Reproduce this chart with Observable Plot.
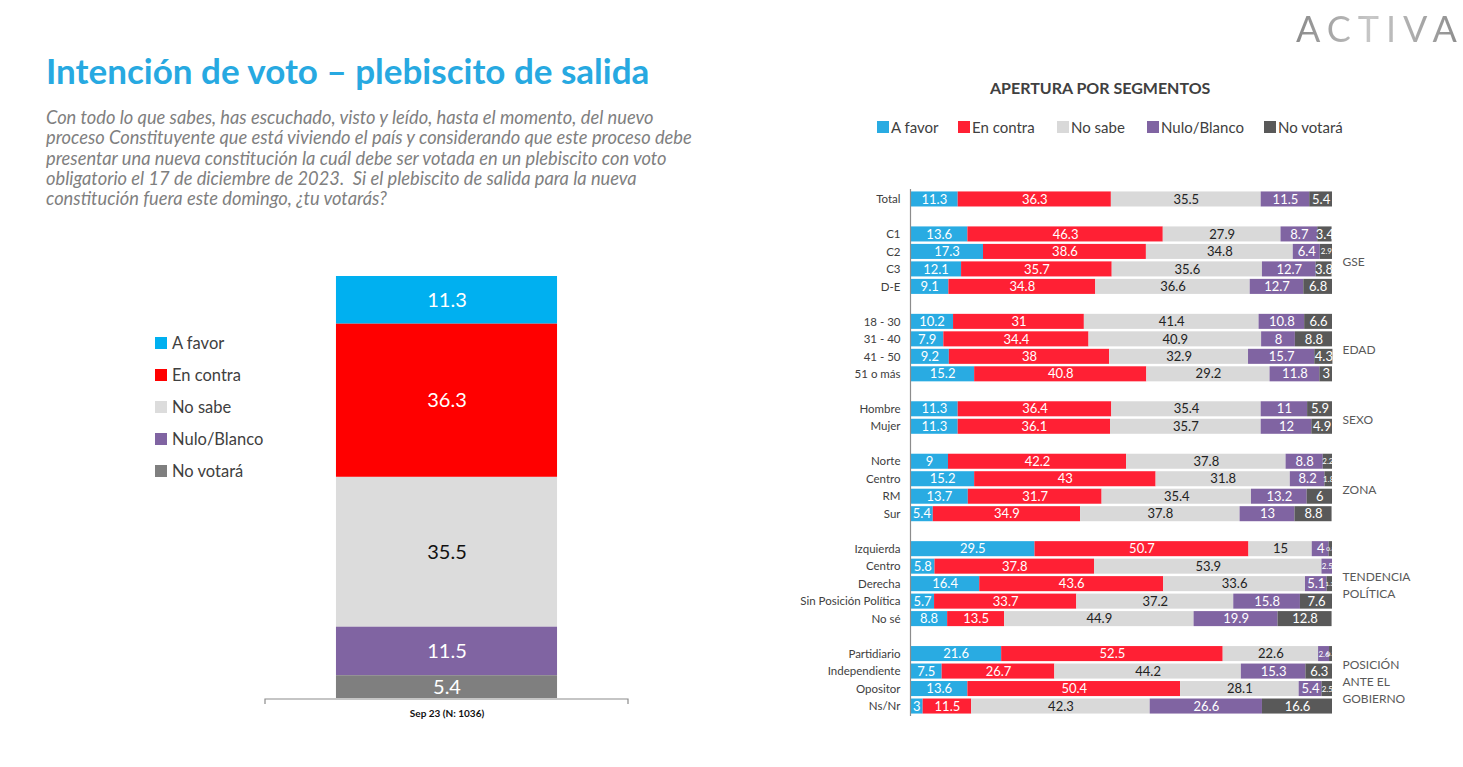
<!DOCTYPE html>
<html><head><meta charset="utf-8">
<script src="https://cdn.jsdelivr.net/npm/d3@7"></script>
<script src="https://cdn.jsdelivr.net/npm/@observablehq/plot@0.6"></script>
<style>
body{margin:0;background:#fff;font-family:Lato,"Open Sans",sans-serif;}
#page{position:relative;width:1463px;height:767px;overflow:hidden;background:#fff;}
.abs{position:absolute;white-space:nowrap;}
#title{left:46px;top:49px;font-size:35px;font-weight:700;color:#27a9e1;}
#sub{left:46px;top:107px;font-size:18.3px;font-style:italic;color:#7f7f7f;line-height:20.3px;}
#logo{left:1296px;top:6px;font-size:36px;letter-spacing:7px;font-weight:400;color:#9c9c9c;
  background:linear-gradient(90deg,#8a8a8a,#c8c8c8 45%,#8a8a8a);-webkit-background-clip:text;background-clip:text;-webkit-text-fill-color:transparent;}
#rtitle{left:990px;top:78px;font-size:16px;font-weight:700;color:#404040;}
.lg{display:flex;align-items:center;color:#404040;}
.lg i{display:inline-block;width:12px;height:12px;margin-right:5px;}
#left{left:250px;top:266px;}
#right{left:820px;top:180px;}
</style></head>
<body><div id="page">
<div id="title" class="abs">Intención de voto – plebiscito de salida</div>
<div id="sub" class="abs">Con todo lo que sabes, has escuchado, visto y leído, hasta el momento, del nuevo<br>proceso Constituyente que está viviendo el país y considerando que este proceso debe<br>presentar una nueva constitución la cuál debe ser votada en un plebiscito con voto<br>obligatorio el 17 de diciembre de 2023.&nbsp; Si el plebiscito de salida para la nueva<br>constitución fuera este domingo, ¿tu votarás?</div>
<div id="logo" class="abs">ACTIVA</div>
<div id="rtitle" class="abs">APERTURA POR SEGMENTOS</div>
<div id="leftLegend"></div>
<div id="rightLegend"></div>
<div id="left" class="abs"></div>
<div id="right" class="abs"></div>
</div>
<script>
// ---------- data ----------
const categories = ["A favor","En contra","No sabe","Nulo/Blanco","No votará"];
const leftColors = ["#00b0f0","#ff0000","#dcdcdc","#8064a2","#7f7f7f"];
const rightColors = ["#29abe2","#ff2034","#d9d9d9","#8064a2","#595959"];
const period = "Sep 23 (N: 1036)";
const totalValues = [11.3, 36.3, 35.5, 11.5, 5.4];

const segments = ["Total","C1","C2","C3","D-E","18 - 30","31 - 40","41 - 50","51 o más","Hombre","Mujer","Norte","Centro","RM","Sur","Izquierda","Centro","Derecha","Sin Posición Política","No sé","Partidiario","Independiente","Opositor","Ns/Nr"];
const groupNames = ["", "GSE", "EDAD", "SEXO", "ZONA", "TENDENCIA\nPOLÍTICA", "POSICIÓN\nANTE EL\nGOBIERNO"];
const groupSizes = [1, 4, 4, 2, 4, 5, 4];
const aFavor   = [11.3,13.6,17.3,12.1,9.1,10.2,7.9,9.2,15.2,11.3,11.3,9,15.2,13.7,5.4,29.5,5.8,16.4,5.7,8.8,21.6,7.5,13.6,3];
const enContra = [36.3,46.3,38.6,35.7,34.8,31,34.4,38,40.8,36.4,36.1,42.2,43,31.7,34.9,50.7,37.8,43.6,33.7,13.5,52.5,26.7,50.4,11.5];
const noSabe   = [35.5,27.9,34.8,35.6,36.6,41.4,40.9,32.9,29.2,35.4,35.7,37.8,31.8,35.4,37.8,15,53.9,33.6,37.2,44.9,22.6,44.2,28.1,42.3];
const nulo     = [11.5,8.7,6.4,12.7,12.7,10.8,8,15.7,11.8,11,12,8.8,8.2,13.2,13,4.0,2.5,5.1,15.8,19.9,2.6,15.3,5.4,26.6];
const noVotara = [5.4,3.4,2.9,3.8,6.8,6.6,8.8,4.3,3,5.9,4.9,2.2,1.8,6,8.8,0.8,0,1.3,7.6,12.8,0.7,6.3,2.5,16.6];
const seriesValues = [aFavor, enContra, noSabe, nulo, noVotara];

// ---------- legends (HTML) ----------
const LL = document.getElementById("leftLegend");
categories.forEach((c,i)=>{
  const d=document.createElement("div"); d.className="abs lg";
  d.style.left="155px"; d.style.top=(333+i*32)+"px"; d.style.fontSize="16.5px";
  d.innerHTML=`<i style="background:${leftColors[i]}"></i>${c}`; LL.appendChild(d);
});
const RL = document.getElementById("rightLegend");
const rlx=[877,958,1057,1147,1264];
categories.forEach((c,i)=>{
  const d=document.createElement("div"); d.className="abs lg";
  d.style.left=rlx[i]+"px"; d.style.top="118px"; d.style.fontSize="15px";
  d.innerHTML=`<i style="background:${rightColors[i]};margin-right:2px"></i>${c}`; RL.appendChild(d);
});

const fmt = v => v === 0 ? "" : String(v);
const labelSize = d => d.v < 1.5 ? 6.5 : d.v < 3 ? 8 : 13;

// ---------- left chart ----------
const leftData = categories.map((c,i)=>({period, cat:c, v:totalValues[i]}));
const baseline = (index, scales, values, dims) => {
  const g = d3.create("svg:g");
  const x0 = dims.marginLeft, x1 = dims.width - dims.marginRight, y = scales.y(0)+1;
  g.append("path").attr("d",`M${x0},${y+5}V${y}H${x1}V${y+5}`).attr("fill","none").attr("stroke","#8c8c8c").attr("stroke-width",1.2);
  return g.node();
};
const left = Plot.plot({
  width: 400, height: 460, marginLeft: 15, marginRight: 22, marginTop: 10, marginBottom: 28,
  style: {fontFamily: "Lato, sans-serif", background: "transparent"},
  x: {domain:[period], padding: 0.243, round: false, label: null},
  y: {domain:[0,100], axis: null},
  color: {domain: categories, range: leftColors},
  marks: [
    Plot.barY(leftData, Plot.stackY({x:"period", y:"v", fill:"cat", reverse:true})),
    Plot.text(leftData, Plot.stackY({x:"period", y:"v", reverse:true, text: d => d.cat==="No sabe" ? "" : fmt(d.v), fill:"white", fontSize:20})),
    Plot.text(leftData, Plot.stackY({x:"period", y:"v", reverse:true, text: d => d.cat==="No sabe" ? fmt(d.v) : "", fill:"#111", fontSize:20})),
    baseline,
    Plot.axisX({tickSize:0, tickPadding:11, fontSize:10, fontWeight:"bold", fill:"#111", label:null})
  ]
});
document.getElementById("left").appendChild(left);

// ---------- right chart ----------
const rowIds = []; const labelOf = {}; const groupFirst = [];
let k = 0;
groupSizes.forEach((n,gi)=>{
  if (gi>0) rowIds.push("gap"+gi);
  groupFirst.push("r"+k);
  for (let j=0;j<n;j++){ rowIds.push("r"+k); labelOf["r"+k]=segments[k]; k++; }
});
const rightData = [];
segments.forEach((s,i)=>categories.forEach((c,ci)=>rightData.push({row:"r"+i, cat:c, v:seriesValues[ci][i]})));

const step = 17.5;
const groupMarks = groupNames.map((name,gi)=> name ? Plot.text([{row:groupFirst[gi], name}], {
  x: ()=>100, y:"row", text:"name", textAnchor:"start", dx:10, dy:(groupSizes[gi]-1)*step/2,
  fill:"#595959", fontSize:12, lineHeight:1.45
}) : null).filter(Boolean);

const right = Plot.plot({
  width: 620, height: 546, marginLeft: 90, marginRight: 108, marginTop: 9, marginBottom: 10,
  style: {fontFamily: "Lato, sans-serif", background: "transparent", overflow:"visible"},
  x: {domain:[0,100], axis: null},
  y: {domain: rowIds, padding: 0.14, round: false, label: null},
  color: {domain: categories, range: rightColors},
  marks: [
    Plot.barX(rightData, Plot.stackX({y:"row", x:"v", fill:"cat"})),
    Plot.text(rightData, Plot.stackX({y:"row", x:"v", text: d => d.cat==="No sabe" ? "" : fmt(d.v), fill:"white", fontSize: labelSize})),
    Plot.text(rightData, Plot.stackX({y:"row", x:"v", text: d => d.cat==="No sabe" ? fmt(d.v) : "", fill:"#222", fontSize: labelSize})),
    Plot.ruleX([0], {stroke:"#8c8c8c", strokeWidth:1.2}),
    Plot.axisY({tickSize:0, tickPadding:10, fontSize:11.5, fill:"#404040", tickFormat: id => labelOf[id] || "", label:null}),
    ...groupMarks
  ]
});
document.getElementById("right").appendChild(right);
</script>
</body></html>
